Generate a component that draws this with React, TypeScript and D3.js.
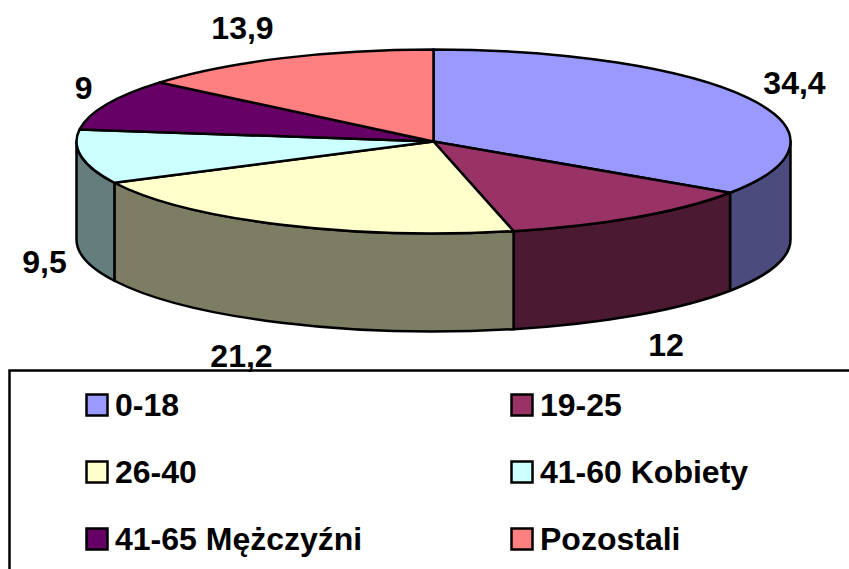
import { useEffect, useRef } from 'react';
import * as d3 from 'd3';

const categories = ['0-18', '19-25', '26-40', '41-60 Kobiety', '41-65 Mężczyźni', 'Pozostali'];
const values = [34.4, 12, 21.2, 9.5, 9, 13.9];
const valueLabels = ['34,4', '12', '21,2', '9,5', '9', '13,9'];
const colors = ['#9999FF', '#993366', '#FFFFCC', '#CCFFFF', '#660066', '#FF8080'];

const WIDTH = 849;
const HEIGHT = 569;
const cx = 433.5;
const cy = 141.5;
const rx = 357;
const ry = 92;
const depth = 98;

// hand placed, Excel style label spots relative to the slice's rim midpoint
const labelOffsets = [
  [46, -15],
  [30, 128],
  [-40, 131],
  [-37, 105],
  [-23, -16],
  [-40, -30],
];

const legendCols = [86, 511];
const legendRows = [405, 472, 539];

const point = (a: number, dy = 0): [number, number] => [
  cx + rx * Math.sin(a),
  cy - ry * Math.cos(a) + dy,
];

export default function App() {
  const ref = useRef<SVGSVGElement>(null);

  useEffect(() => {
    if (!ref.current) return;
    const svg = d3.select(ref.current);
    svg.selectAll('*').remove();

    const pie = d3.pie<number>().sort(null).value((d) => d);
    const slices = pie(values);

    // Side walls, only the front half of the disc shows
    const walls = svg.append('g');
    slices.forEach((s, i) => {
      const a0 = Math.max(s.startAngle, Math.PI / 2);
      const a1 = Math.min(s.endAngle, (3 * Math.PI) / 2);
      if (a1 <= a0) return;
      const [x0, y0] = point(a0);
      const [x1, y1] = point(a1);
      walls
        .append('path')
        .attr(
          'd',
          `M${x0},${y0} A${rx},${ry} 0 0 1 ${x1},${y1} L${x1},${y1 + depth} A${rx},${ry} 0 0 0 ${x0},${y0 + depth} Z`
        )
        .attr('fill', d3.rgb(colors[i]).darker(2).formatHex())
        .attr('stroke', '#000')
        .attr('stroke-width', 2.5)
        .attr('stroke-linejoin', 'round');
    });

    // Top of the disc: a flat d3 arc squashed to an ellipse
    const arc = d3.arc<d3.PieArcDatum<number>>().innerRadius(0).outerRadius(rx);
    svg
      .append('g')
      .attr('transform', `translate(${cx},${cy}) scale(1,${ry / rx})`)
      .selectAll('path')
      .data(slices)
      .enter()
      .append('path')
      .attr('d', arc)
      .attr('fill', (_, i) => colors[i])
      .attr('stroke', '#000')
      .attr('stroke-width', 2.5)
      .attr('stroke-linejoin', 'round')
      .attr('vector-effect', 'non-scaling-stroke');

    // Value labels
    svg
      .append('g')
      .selectAll('text')
      .data(slices)
      .enter()
      .append('text')
      .attr('x', (s, i) => point((s.startAngle + s.endAngle) / 2)[0] + labelOffsets[i][0])
      .attr('y', (s, i) => point((s.startAngle + s.endAngle) / 2)[1] + labelOffsets[i][1])
      .attr('text-anchor', 'middle')
      .attr('dominant-baseline', 'central')
      .style('font-size', '32px')
      .style('font-weight', 'bold')
      .text((_, i) => valueLabels[i]);

    // Legend box, open at the right and bottom where the picture is cropped
    svg
      .append('path')
      .attr('d', `M9.5,${HEIGHT} V370.5 H${WIDTH}`)
      .attr('fill', 'none')
      .attr('stroke', '#000')
      .attr('stroke-width', 2.5);

    const items = svg
      .append('g')
      .selectAll('g')
      .data(categories)
      .enter()
      .append('g')
      .attr('transform', (_, i) => `translate(${legendCols[i % 2]},${legendRows[Math.floor(i / 2)]})`);

    items
      .append('rect')
      .attr('x', 0.5)
      .attr('y', -10.5)
      .attr('width', 21)
      .attr('height', 21)
      .attr('fill', (_, i) => colors[i])
      .attr('stroke', '#000')
      .attr('stroke-width', 2.5);

    items
      .append('text')
      .attr('x', 29)
      .attr('y', 0)
      .attr('dominant-baseline', 'central')
      .style('font-size', '32px')
      .style('font-weight', 'bold')
      .text((d) => d);
  }, []);

  return (
    <svg
      ref={ref}
      width={WIDTH}
      height={HEIGHT}
      viewBox={`0 0 ${WIDTH} ${HEIGHT}`}
      style={{
        position: 'fixed',
        left: 0,
        top: 0,
        background: '#fff',
        fontFamily: '"Liberation Sans", Arial, sans-serif',
      }}
    />
  );
}
